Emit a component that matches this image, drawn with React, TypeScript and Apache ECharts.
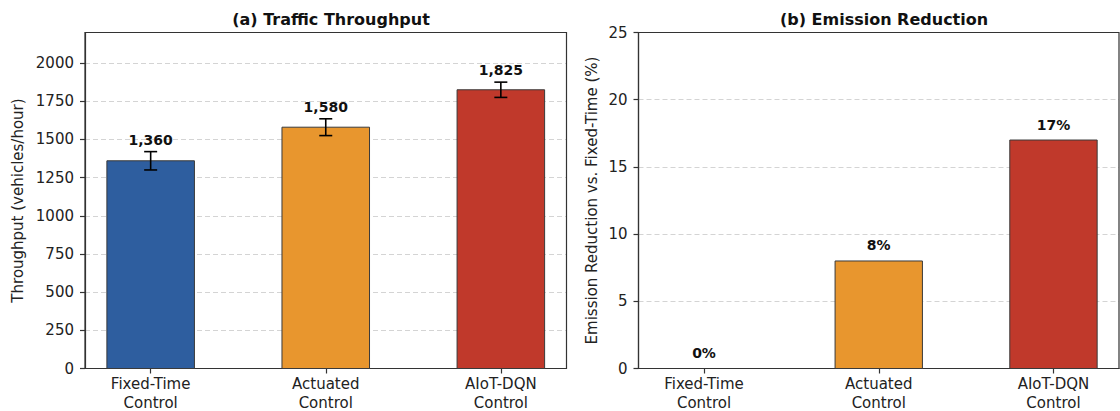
import React, { useEffect, useRef } from "react";
import * as echarts from "echarts";

const categories = ["Fixed-Time\nControl", "Actuated\nControl", "AIoT-DQN\nControl"];
const throughput = [1360, 1580, 1825];
const throughputErr = [60, 55, 50];
const emission = [0, 8, 17];
const barColors = ["#2E5E9F", "#E8962E", "#C0392B"];
const categoryPositions = [0, 1, 2];
const throughputTicks = [0, 250, 500, 750, 1000, 1250, 1500, 1750, 2000];
const emissionTicks = [0, 5, 10, 15, 20, 25];

const FONT = '"DejaVu Sans", sans-serif';
const AXIS_COLOR = "#333333";
const TEXT_COLOR = "#222222";

function makeXAxis(gridIndex: number) {
  return {
    gridIndex,
    type: "value",
    min: -0.375,
    max: 2.375,
    splitLine: { show: false },
    axisLine: { show: true, onZero: false, lineStyle: { color: AXIS_COLOR, width: 1.2 } },
    axisTick: {
      show: true,
      customValues: categoryPositions,
      length: 5,
      lineStyle: { color: AXIS_COLOR, width: 1.2 },
    },
    axisLabel: {
      customValues: categoryPositions,
      formatter: (v: number) => categories[Math.round(v)] ?? "",
      margin: 6,
      fontSize: 15,
      lineHeight: 19,
      color: TEXT_COLOR,
      fontFamily: FONT,
    },
  };
}

function makeYAxis(gridIndex: number, max: number, interval: number, ticks: number[], name: string, nameGap: number) {
  return {
    gridIndex,
    type: "value",
    min: 0,
    max,
    interval,
    name,
    nameLocation: "middle",
    nameGap,
    nameTextStyle: { fontSize: 15, color: TEXT_COLOR, fontFamily: FONT },
    axisLine: { show: true, onZero: false, lineStyle: { color: AXIS_COLOR, width: 1.2 } },
    axisTick: { show: true, customValues: ticks, length: 5, lineStyle: { color: AXIS_COLOR, width: 1.2 } },
    axisLabel: {
      customValues: ticks,
      formatter: (v: number) => String(v),
      margin: 11,
      fontSize: 15,
      color: TEXT_COLOR,
      fontFamily: FONT,
    },
    splitLine: {
      show: true,
      lineStyle: { color: "#d4d4d4", type: [5, 3], width: 1 },
    },
  };
}

export default function App() {
  const ref = useRef<HTMLDivElement>(null);

  useEffect(() => {
    document.body.style.margin = "0";
    if (!ref.current) return;
    const chart = echarts.init(ref.current, undefined, { renderer: "svg" });

    const barsWithErr = (params: any, api: any) => {
      const x = api.value(0);
      const y = api.value(1);
      const err = api.value(2);
      const idx = params.dataIndex;
      const p0 = api.coord([x - 0.25, 0]);
      const p1 = api.coord([x + 0.25, y]);
      const top = api.coord([x, y + err]);
      const bot = api.coord([x, y - err]);
      const cx = top[0];
      const cap = 6.5;
      return {
        type: "group",
        children: [
          {
            type: "rect",
            shape: { x: p0[0], y: p1[1], width: p1[0] - p0[0], height: p0[1] - p1[1] },
            style: { fill: barColors[idx], stroke: "#3a3a3a", lineWidth: 1 },
          },
          {
            type: "line",
            shape: { x1: cx, y1: top[1], x2: cx, y2: bot[1] },
            style: { stroke: "#000", lineWidth: 1.6 },
          },
          {
            type: "line",
            shape: { x1: cx - cap, y1: top[1], x2: cx + cap, y2: top[1] },
            style: { stroke: "#000", lineWidth: 1.6 },
          },
          {
            type: "line",
            shape: { x1: cx - cap, y1: bot[1], x2: cx + cap, y2: bot[1] },
            style: { stroke: "#000", lineWidth: 1.6 },
          },
          {
            type: "text",
            style: {
              text: y.toLocaleString("en-US"),
              x: cx,
              y: top[1] - 5,
              align: "center",
              verticalAlign: "bottom",
              font: `bold 14px ${FONT}`,
              fill: "#111",
            },
          },
        ],
      };
    };

    const bars = (params: any, api: any) => {
      const x = api.value(0);
      const y = api.value(1);
      const idx = params.dataIndex;
      const p0 = api.coord([x - 0.25, 0]);
      const p1 = api.coord([x + 0.25, y]);
      const children: any[] = [];
      if (y > 0) {
        children.push({
          type: "rect",
          shape: { x: p0[0], y: p1[1], width: p1[0] - p0[0], height: p0[1] - p1[1] },
          style: { fill: barColors[idx], stroke: "#3a3a3a", lineWidth: 1 },
        });
      }
      children.push({
        type: "text",
        style: {
          text: `${y}%`,
          x: (p0[0] + p1[0]) / 2,
          y: p1[1] - 8.5,
          align: "center",
          verticalAlign: "bottom",
          font: `bold 14px ${FONT}`,
          fill: "#111",
        },
      });
      return { type: "group", children };
    };

    const gridCommon = {
      top: 32.5,
      height: 336,
      show: true,
      borderColor: AXIS_COLOR,
      borderWidth: 1.2,
      backgroundColor: "transparent",
      outerBoundsMode: "none",
      containLabel: false,
      z: 3,
    };

    chart.setOption({
      animation: false,
      backgroundColor: "#ffffff",
      title: [
        {
          text: "(a) Traffic Throughput",
          left: 326,
          top: 6,
          textAlign: "center",
          textStyle: { fontSize: 16, fontWeight: "bold", color: "#111", fontFamily: FONT },
        },
        {
          text: "(b) Emission Reduction",
          left: 879,
          top: 6,
          textAlign: "center",
          textStyle: { fontSize: 16, fontWeight: "bold", color: "#111", fontFamily: FONT },
        },
      ],
      grid: [
        { ...gridCommon, left: 85, width: 481.5 },
        { ...gridCommon, left: 638.5, width: 480.5 },
      ],
      xAxis: [makeXAxis(0), makeXAxis(1)],
      yAxis: [
        makeYAxis(0, 2200, 250, throughputTicks, "Throughput (vehicles/hour)", 59.5),
        makeYAxis(1, 25, 5, emissionTicks, "Emission Reduction vs. Fixed-Time (%)", 39),
      ],
      series: [
        {
          type: "custom",
          xAxisIndex: 0,
          yAxisIndex: 0,
          renderItem: barsWithErr,
          encode: { x: 0, y: 1 },
          data: throughput.map((v, i) => [categoryPositions[i], v, throughputErr[i]]),
          z: 5,
        },
        {
          type: "custom",
          xAxisIndex: 1,
          yAxisIndex: 1,
          renderItem: bars,
          encode: { x: 0, y: 1 },
          data: emission.map((v, i) => [categoryPositions[i], v]),
          z: 5,
        },
      ],
    });

    return () => {
      chart.dispose();
    };
  }, []);

  return <div ref={ref} style={{ width: 1120, height: 411 }} />;
}
